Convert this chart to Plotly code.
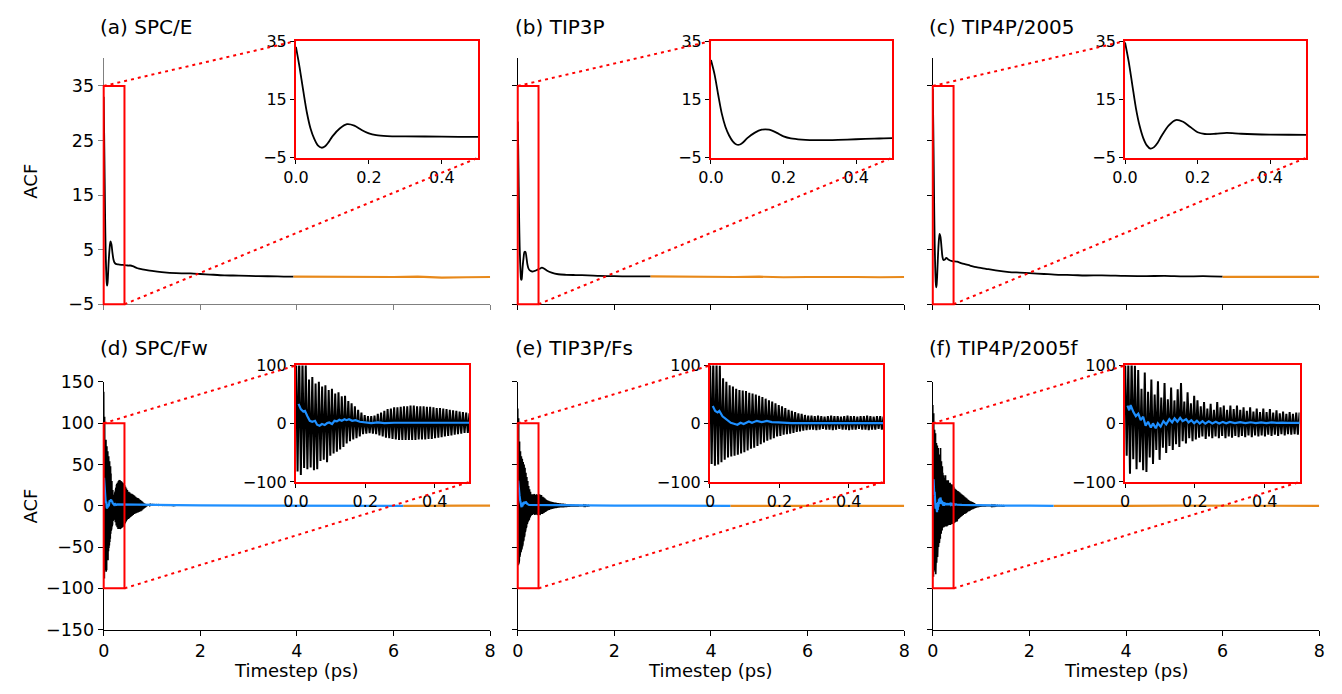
import numpy as np
import plotly.graph_objects as go

W, H = 1342, 694

# ---------------- data ----------------
titles = ["(a) SPC/E", "(b) TIP3P", "(c) TIP4P/2005",
          "(d) SPC/Fw", "(e) TIP3P/Fs", "(f) TIP4P/2005f"]

# rigid models: ACF (black) and tail (orange)
t_a = [0, 0.01, 0.02, 0.03, 0.04, 0.05, 0.06, 0.07, 0.08, 0.09, 0.10, 0.12, 0.14, 0.16, 0.18, 0.20,
       0.22, 0.25, 0.30, 0.40, 0.50, 0.55, 0.60, 0.70, 0.80, 0.92, 1.00, 1.20, 1.50, 1.80, 2.00, 2.20,
       2.50, 2.80, 3.20, 3.60, 3.93]
acf_a = [33.0, 26.0, 18.0, 10.5, 5.0, 1.5, -0.8, -1.6, -1.1, 0.4, 2.3, 5.0, 6.5, 6.0, 4.5, 3.3,
         2.7, 2.4, 2.3, 2.2, 2.1, 2.1, 2.0, 1.6, 1.4, 1.2, 1.1, 0.9, 0.7, 0.65, 0.55, 0.45,
         0.3, 0.25, 0.15, 0.12, 0.05]
t_b = [0, 0.01, 0.02, 0.03, 0.04, 0.05, 0.06, 0.07, 0.08, 0.09, 0.10, 0.12, 0.14, 0.16, 0.18, 0.20,
       0.22, 0.25, 0.30, 0.35, 0.40, 0.45, 0.50, 0.55, 0.60, 0.70, 0.84, 1.00, 1.20, 1.45, 1.70, 2.00,
       2.30, 2.75]
acf_b = [28.5, 23.5, 16.5, 10.0, 5.5, 2.6, 0.6, -0.5, -0.5, 0.4, 1.7, 3.5, 4.6, 4.6, 3.6, 2.3,
         1.6, 1.2, 1.0, 1.1, 1.3, 1.5, 1.7, 1.5, 1.2, 0.8, 0.5, 0.4, 0.35, 0.3, 0.2, 0.15,
         0.1, 0.1]
t_c = [0, 0.01, 0.02, 0.03, 0.04, 0.05, 0.06, 0.07, 0.08, 0.09, 0.10, 0.12, 0.14, 0.16, 0.18, 0.20,
       0.22, 0.25, 0.28, 0.32, 0.40, 0.50, 0.60, 0.77, 0.90, 1.10, 1.30, 1.58, 1.80, 2.00, 2.30, 2.60,
       2.90, 3.15, 3.50, 3.97, 4.40, 4.80, 5.20, 5.60, 6.00]
acf_c = [34.5, 28.0, 20.0, 12.0, 6.0, 1.8, -0.8, -1.9, -1.4, 0.1, 2.3, 6.0, 7.9, 7.3, 5.5, 3.7,
         3.1, 3.2, 3.5, 3.2, 2.9, 2.8, 2.5, 2.1, 1.8, 1.5, 1.2, 0.9, 0.8, 0.7, 0.55, 0.4,
         0.35, 0.27, 0.3, 0.2, 0.15, 0.2, 0.1, 0.15, 0.05]

tail_t_a = [3.93, 4.5, 5.0, 5.5, 6.0, 6.5, 7.0, 7.5, 8.0]
tail_v_a = [0.05, 0.0, 0.05, -0.05, 0.0, 0.05, -0.1, -0.05, 0.0]
tail_t_b = [2.75, 3.5, 4.0, 4.5, 5.0, 5.5, 6.0, 6.5, 7.0, 7.5, 8.0]
tail_v_b = [0.1, 0.0, -0.05, 0.0, 0.05, -0.05, 0.0, 0.05, 0.0, -0.05, 0.0]
tail_t_c = [6.0, 6.5, 7.0, 7.5, 8.0]
tail_v_c = [0.03, 0.0, 0.05, 0.0, 0.02]

# flexible models: raw ACF peaks/troughs per oscillation (0-0.5 ps), then coarser tail (0.5-1.5 ps)
osc_period = 0.5 / 53
hi_d = [138, 120, 108, 101, 76, 80, 69, 72, 64, 66, 58, 60, 52, 54, 47, 48, 39, 35, 30, 24, 19, 15,
        13, 13, 14, 17, 19, 22, 25, 26, 28, 28, 29, 30, 30, 31, 31, 30, 30, 30, 29, 29, 28, 27, 27,
        26, 25, 24, 23, 22, 21, 20, 19]
lo_d = [-82, -88, -76, -78, -75, -80, -78, -64, -62, -66, -55, -51, -48, -44, -40, -34, -30, -27,
        -25, -22, -18, -17, -16, -17, -18, -20, -22, -24, -25, -26, -27, -28, -28, -28, -28, -28,
        -28, -27, -27, -27, -26, -26, -25, -24, -23, -22, -21, -20, -19, -18, -17, -16, -16]
hi_e = [118, 112, 106, 100, 78, 72, 66, 64, 60, 58, 57, 56, 53, 52, 50, 48, 46, 43, 40, 38, 35, 32,
        30, 27, 24, 22, 20, 18, 17, 15, 14, 14, 13, 14, 13, 12, 13, 14, 13, 13, 12, 13, 14, 13, 13,
        12, 13, 13, 14, 13, 12, 13, 13]
lo_e = [-69, -72, -70, -66, -62, -58, -56, -55, -53, -51, -49, -46, -43, -41, -38, -35, -32, -29,
        -27, -25, -22, -21, -19, -18, -17, -16, -14, -13, -12, -11, -10, -10, -11, -10, -9, -10,
        -10, -11, -10, -9, -10, -10, -11, -10, -10, -9, -10, -10, -11, -10, -10, -9, -10]
hi_f = [122, 105, 112, 100, 92, 60, 88, 55, 76, 50, 73, 45, 70, 42, 62, 40, 59, 70, 38, 54, 35, 48,
        40, 30, 37, 26, 34, 24, 37, 28, 31, 24, 31, 25, 31, 24, 28, 22, 28, 21, 26, 20, 26, 20, 25,
        19, 23, 18, 21, 17, 20, 17, 19]
lo_f = [-55, -86, -61, -78, -66, -80, -83, -58, -69, -45, -62, -41, -50, -38, -45, -35, -40, -30,
        -34, -25, -30, -27, -24, -22, -26, -22, -25, -22, -25, -21, -25, -22, -24, -21, -23, -21,
        -23, -20, -23, -20, -22, -20, -22, -19, -21, -19, -21, -18, -20, -18, -19, -18, -19]

tail_step = 0.02
hi_tail_d = [18, 17, 16, 15, 14.5, 14, 13, 12, 11, 10, 9.5, 9, 8, 7, 6, 5, 4, 3, 2.2, 1.9, 1.8, 1.7,
             1.6, 1.6, 1.5, 1.5, 1.5, 1.4, 1.4, 1.4, 1.3, 1.3, 1.3, 1.2, 1.2, 1.2, 1.1, 1.1, 1.1, 1.0,
             1.0, 1.0, 0.9, 0.9, 0.9, 0.8, 0.8, 0.8, 0.7, 0.7]
lo_tail_d = [-16, -15, -14, -13, -12, -11, -10, -9.5, -9, -8.5, -8, -7.5, -7, -6.5, -5.5, -4.5, -3.5,
             -2.5, -1.5, -0.5, 0.2, 0.5, 0.6, 0.7, 0.8, 0.8, 0.8, 0.8, 0.8, 0.8, 0.7, 0.7, 0.7, 0.7,
             0.6, 0.6, 0.6, 0.6, 0.5, 0.5, 0.5, 0.5, 0.4, 0.4, 0.4, 0.4, 0.3, 0.3, 0.3, 0.3]
hi_tail_e = [12, 11, 10, 9, 8, 7, 6.5, 6, 5.5, 5, 4.8, 4.5, 4.3, 4, 3.8, 3.6, 3.4, 3.2, 3, 2.9, 2.8,
             2.7, 2.5, 2.4, 2.2, 2, 1.9, 1.8, 1.7, 1.6, 1.5, 1.4, 1.3, 1.2, 1.1, 1, 0.9, 0.8, 0.8, 0.7,
             0.7, 0.6, 0.6, 0.5, 0.5, 0.5, 0.4, 0.4, 0.4, 0.3]
lo_tail_e = [-10, -9, -8.5, -7.5, -7, -6, -5.5, -5, -4.5, -4, -3.8, -3.5, -3.3, -3, -2.8, -2.6, -2.4,
             -2.2, -2.1, -2, -2, -1.9, -1.8, -1.7, -1.6, -1.5, -1.4, -1.3, -1.2, -1.1, -1, -1, -0.9,
             -0.9, -0.8, -0.8, -0.7, -0.7, -0.6, -0.6, -0.5, -0.5, -0.5, -0.4, -0.4, -0.4, -0.3,
             -0.3, -0.3, -0.3]
hi_tail_f = [19, 18, 17, 16, 15, 14, 13, 12, 11, 10, 9, 8, 7, 6, 5.5, 5, 4.5, 4, 3.2, 2.5, 2, 1.8,
             1.6, 1.4, 1.3, 1.2, 1.1, 1, 1, 0.9, 0.9, 0.8, 0.8, 0.7, 0.7, 0.6, 0.6, 0.5, 0.5, 0.5,
             0.4, 0.4, 0.4, 0.3, 0.3, 0.3, 0.3, 0.2, 0.2, 0.2]
lo_tail_f = [-17, -16, -15, -14, -13, -12, -11, -10, -9.5, -9, -8, -7, -6.5, -6, -5, -4.5, -4, -3.5,
             -3, -2.5, -2, -1.8, -1.6, -1.4, -1.2, -1, -0.9, -0.8, -0.7, -0.7, -0.6, -0.6, -0.5,
             -0.5, -0.5, -0.4, -0.4, -0.4, -0.3, -0.3, -0.3, -0.3, -0.2, -0.2, -0.2, -0.2, -0.2,
             -0.1, -0.1, -0.1]

# smoothed (blue) ACF
blue_t_d = [0.0075, 0.014, 0.021, 0.026, 0.033, 0.040, 0.047, 0.055, 0.061, 0.068, 0.075, 0.083,
            0.090, 0.096, 0.104, 0.111, 0.118, 0.125, 0.132, 0.140, 0.146, 0.153, 0.162, 0.172,
            0.184, 0.198, 0.217, 0.236, 0.255, 0.283, 0.33, 0.40, 0.50, 0.60, 0.80, 1.00, 1.50,
            2.00, 3.00, 4.00, 5.00, 6.20]
blue_v_d = [34, 25, 21, 22, 13, 5, 3.4, 5, -1.7, -3.4, -0.6, -2.2, 1.1, 2.2, -0.6, 5, 4, 6.7, 5,
            7.8, 6.1, 7.8, 5, 6.1, 3.4, 2.2, 1.1, 2.2, 1.1, 1.7, 1.7, 1.6, 1.6, 1.5, 1.3, 1.2, 0.8,
            0.4, 0.2, 0.1, 0.05, 0.0]
blue_t_e = [0.008, 0.015, 0.022, 0.027, 0.036, 0.05, 0.06, 0.069, 0.079, 0.088, 0.097, 0.112,
            0.121, 0.135, 0.149, 0.164, 0.178, 0.197, 0.235, 0.30, 0.40, 0.50, 0.70, 1.00, 1.50,
            2.00, 3.00, 4.40]
blue_v_e = [30.5, 22, 19.4, 22, 12.8, 6.7, 1.5, 0, -1.7, 1.7, -0.6, 3.9, 1.7, 5, 2.8, 5, 2.8, 2.2,
            1.1, 1.1, 1.1, 1.0, 0.8, 0.5, 0.3, 0.2, 0.1, 0.0]
blue_t_f = [0.007, 0.012, 0.016, 0.024, 0.031, 0.038, 0.045, 0.052, 0.059, 0.066, 0.074, 0.080,
            0.088, 0.094, 0.102, 0.110, 0.118, 0.127, 0.135, 0.142, 0.150, 0.158, 0.165, 0.175,
            0.182, 0.190, 0.198, 0.206, 0.214, 0.222, 0.230, 0.240, 0.250, 0.260, 0.270, 0.280,
            0.290, 0.300, 0.315, 0.330, 0.345, 0.360, 0.375, 0.390, 0.405, 0.420, 0.435, 0.450,
            0.465, 0.480, 0.50, 0.6, 0.8, 1.0, 1.5, 2.0, 2.5]
blue_v_f = [31, 23, 32, 20, 13, 17, 6, 12, -3.4, 3.4, -6.7, 0.6, -7.8, 0.6, -5, 4.5, -1.1, 7.8,
            2.2, 9, 3.4, 10, 4.5, 7.8, 2.2, 6, 1, 5, 0.5, 4.5, 0, 4, 0.5, 3.5, 0.5, 3.2, 0.8, 3, 1,
            2.8, 1, 2.5, 1.2, 2.3, 1.2, 2.2, 1.3, 2, 1.3, 1.8, 1.5, 1.2, 0.8, 0.5, 0.2, 0.1, 0.0]

tail_t_d = [6.2, 6.6, 7.0, 7.5, 8.0]
tail_v_d = [0.0, 0.3, 0.2, 0.3, 0.2]
tail_t_e = [4.4, 5.0, 6.0, 7.0, 8.0]
tail_v_e = [0.0, 0.1, 0.0, 0.1, 0.0]
tail_t_f = [2.5, 3.0, 4.0, 5.0, 6.0, 7.0, 8.0]
tail_v_f = [0.0, 0.2, 0.0, 0.1, 0.0, 0.1, 0.0]

zoom_box_x = (0.0, 0.43)

# ---------------- layout geometry (pixels) ----------------
main_x_px = [(92, 484), (512, 904), (933, 1325)]
row_y_px = [(49, 303), (383, 638)]
inset_x_px = [[(287, 472), (708, 892), (1128, 1312)],
              [(287, 463), (707, 883), (1128, 1305)]]
inset_y_px = [(32, 152), (366, 486)]
title_px = [(86, 17), (507, 17), (927, 17), (86, 348), (507, 348), (927, 348)]

main_yrange = [[-5, 40.2], [-150, 150]]
inset_yrange = [[-5, 35], [-100, 100]]
box_y = [(-5, 35), (-100, 100)]

BLACK = "black"
ORANGE = "#e8891a"
BLUE = "#1e8fff"
RED = "red"
FONT = "DejaVu Sans"
TICK_SIZE = 17.5
INSET_TICK_SIZE = 16
LABEL_SIZE = 18
TITLE_SIZE = 20


def dom_x(px):
    return [px[0] / W, px[1] / W]


def dom_y(py):
    return [1 - py[1] / H, 1 - py[0] / H]


def to_paper(xpx, ypx, xr, yr, x, y):
    px = xpx[0] + (x - xr[0]) / (xr[1] - xr[0]) * (xpx[1] - xpx[0])
    py = ypx[1] - (y - yr[0]) / (yr[1] - yr[0]) * (ypx[1] - ypx[0])
    return px / W, 1 - py / H


def zigzag(hi, lo, t0, step):
    t = t0 + np.arange(2 * len(hi)) * step / 2.0
    y = np.empty(2 * len(hi))
    y[0::2] = hi
    y[1::2] = lo
    return t, y


def aname(k, letter):
    return f"{letter}axis" if k == 1 else f"{letter}axis{k}"


def aref(k, letter):
    return letter if k == 1 else f"{letter}{k}"


def minus(v):
    return f"{v}".replace("-", "\u2212")


fig = go.Figure()
layout = dict(width=W, height=H, margin=dict(l=0, r=0, t=0, b=0),
              paper_bgcolor="white", plot_bgcolor="white", showlegend=False,
              font=dict(family=FONT, color="black"))
shapes = []
annotations = []

rigid = [(t_a, acf_a, tail_t_a, tail_v_a), (t_b, acf_b, tail_t_b, tail_v_b),
         (t_c, acf_c, tail_t_c, tail_v_c)]
flex = [(hi_d, lo_d, hi_tail_d, lo_tail_d, blue_t_d, blue_v_d, tail_t_d, tail_v_d),
        (hi_e, lo_e, hi_tail_e, lo_tail_e, blue_t_e, blue_v_e, tail_t_e, tail_v_e),
        (hi_f, lo_f, hi_tail_f, lo_tail_f, blue_t_f, blue_v_f, tail_t_f, tail_v_f)]

for i in range(6):
    row, col = divmod(i, 3)
    m, n = 2 * i + 1, 2 * i + 2
    axcol = "#808080" if i == 0 else BLACK

    # main axes
    yt = [-5, 5, 15, 25, 35] if row == 0 else [-150, -100, -50, 0, 50, 100, 150]
    layout[aname(m, "x")] = dict(domain=dom_x(main_x_px[col]), range=[0, 8], anchor=aref(m, "y"),
                                 showline=True, linecolor=axcol, linewidth=1.2, ticks="outside",
                                 ticklen=5, tickwidth=1.2, tickcolor=axcol, showgrid=False,
                                 zeroline=False, tickvals=[0, 2, 4, 6, 8],
                                 ticktext=["0", "2", "4", "6", "8"],
                                 showticklabels=(row == 1), tickfont=dict(size=TICK_SIZE))
    layout[aname(m, "y")] = dict(domain=dom_y(row_y_px[row]), range=main_yrange[row],
                                 anchor=aref(m, "x"), showline=True, linecolor=axcol, linewidth=1.2,
                                 ticks="outside", ticklen=5, tickwidth=1.2, tickcolor=axcol,
                                 showgrid=False, zeroline=False, tickvals=yt,
                                 ticktext=[minus(v) for v in yt], showticklabels=(col == 0),
                                 tickfont=dict(size=TICK_SIZE))
    # inset axes
    iyt = [-5, 15, 35] if row == 0 else [-100, 0, 100]
    ixt = ["0.0", "0.2", "0.4"] if i <= 3 else ["0", "0.2", "0.4"]
    layout[aname(n, "x")] = dict(domain=dom_x(inset_x_px[row][col]), range=[0, 0.5],
                                 anchor=aref(n, "y"), showline=True, mirror=True, linecolor=RED,
                                 linewidth=2, ticks="outside", ticklen=4, tickwidth=1.2,
                                 tickcolor=BLACK, showgrid=False, zeroline=False,
                                 tickvals=[0, 0.2, 0.4], ticktext=ixt,
                                 tickfont=dict(size=INSET_TICK_SIZE))
    layout[aname(n, "y")] = dict(domain=dom_y(inset_y_px[row]), range=inset_yrange[row],
                                 anchor=aref(n, "x"), showline=True, mirror=True, linecolor=RED,
                                 linewidth=2, ticks="outside", ticklen=4, tickwidth=1.2,
                                 tickcolor=BLACK, showgrid=False, zeroline=False, tickvals=iyt,
                                 ticktext=[minus(v) for v in iyt],
                                 tickfont=dict(size=INSET_TICK_SIZE))

    for k, is_inset in ((m, False), (n, True)):
        xa, ya = aref(k, "x"), aref(k, "y")
        if row == 0:
            t, v, tt, tv = rigid[col]
            fig.add_trace(go.Scatter(x=t, y=v, mode="lines", xaxis=xa, yaxis=ya,
                                     line=dict(color=BLACK, width=1.8, shape="spline",
                                               smoothing=0.8)))
            fig.add_trace(go.Scatter(x=tt, y=tv, mode="lines", xaxis=xa, yaxis=ya,
                                     line=dict(color=ORANGE, width=2.2)))
        else:
            hi, lo, hit, lot, bt, bv, tt, tv = flex[col]
            z1t, z1y = zigzag(hi, lo, 0.0, osc_period)
            z2t, z2y = zigzag(hit, lot, 0.5, tail_step)
            zt = np.concatenate([z1t, z2t])
            zy = np.concatenate([z1y, z2y])
            fig.add_trace(go.Scatter(x=zt, y=zy, mode="lines", xaxis=xa, yaxis=ya,
                                     line=dict(color=BLACK, width=2.0 if is_inset else 1.6)))
            fig.add_trace(go.Scatter(x=tt, y=tv, mode="lines", xaxis=xa, yaxis=ya,
                                     line=dict(color=ORANGE, width=2.2)))
            fig.add_trace(go.Scatter(x=bt, y=bv, mode="lines", xaxis=xa, yaxis=ya,
                                     line=dict(color=BLUE, width=2.2)))

    # zoom box and connectors
    mx, my = main_x_px[col], row_y_px[row]
    ix, iy = inset_x_px[row][col], inset_y_px[row]
    by0, by1 = box_y[row]
    bx0, bx1 = zoom_box_x
    p0 = to_paper(mx, my, [0, 8], main_yrange[row], bx0, by0)
    p1 = to_paper(mx, my, [0, 8], main_yrange[row], bx1, by1)
    shapes.append(dict(type="rect", xref="paper", yref="paper", x0=p0[0], y0=p0[1], x1=p1[0],
                       y1=p1[1], line=dict(color=RED, width=2), layer="above"))
    a = to_paper(mx, my, [0, 8], main_yrange[row], bx0, by1)
    b = to_paper(ix, iy, [0, 0.5], inset_yrange[row], 0, inset_yrange[row][1])
    shapes.append(dict(type="line", xref="paper", yref="paper", x0=a[0], y0=a[1], x1=b[0], y1=b[1],
                       line=dict(color=RED, width=2, dash="3px,4px"), layer="above"))
    a = to_paper(mx, my, [0, 8], main_yrange[row], bx1, by0)
    b = to_paper(ix, iy, [0, 0.5], inset_yrange[row], 0.5, inset_yrange[row][0])
    shapes.append(dict(type="line", xref="paper", yref="paper", x0=a[0], y0=a[1], x1=b[0], y1=b[1],
                       line=dict(color=RED, width=2, dash="3px,4px"), layer="above"))

    # panel title
    tx, ty = title_px[i]
    annotations.append(dict(text=titles[i], x=tx / W, y=1 - ty / H, xref="paper", yref="paper",
                            xanchor="left", yanchor="middle", showarrow=False,
                            font=dict(size=TITLE_SIZE, family=FONT, color="black")))
    if row == 1:
        annotations.append(dict(text="Timestep (ps)", x=(mx[0] + mx[1]) / 2 / W, y=1 - 680 / H,
                                xref="paper", yref="paper", xanchor="center", yanchor="middle",
                                showarrow=False,
                                font=dict(size=LABEL_SIZE, family=FONT, color="black")))
    if col == 0:
        annotations.append(dict(text="ACF", x=18 / W, y=1 - ((my[0] + my[1]) / 2) / H,
                                xref="paper", yref="paper", xanchor="center", yanchor="middle",
                                textangle=-90, showarrow=False,
                                font=dict(size=LABEL_SIZE, family=FONT, color="black")))

layout["shapes"] = shapes
layout["annotations"] = annotations
fig.update_layout(**layout)
fig.write_html("out.html")
